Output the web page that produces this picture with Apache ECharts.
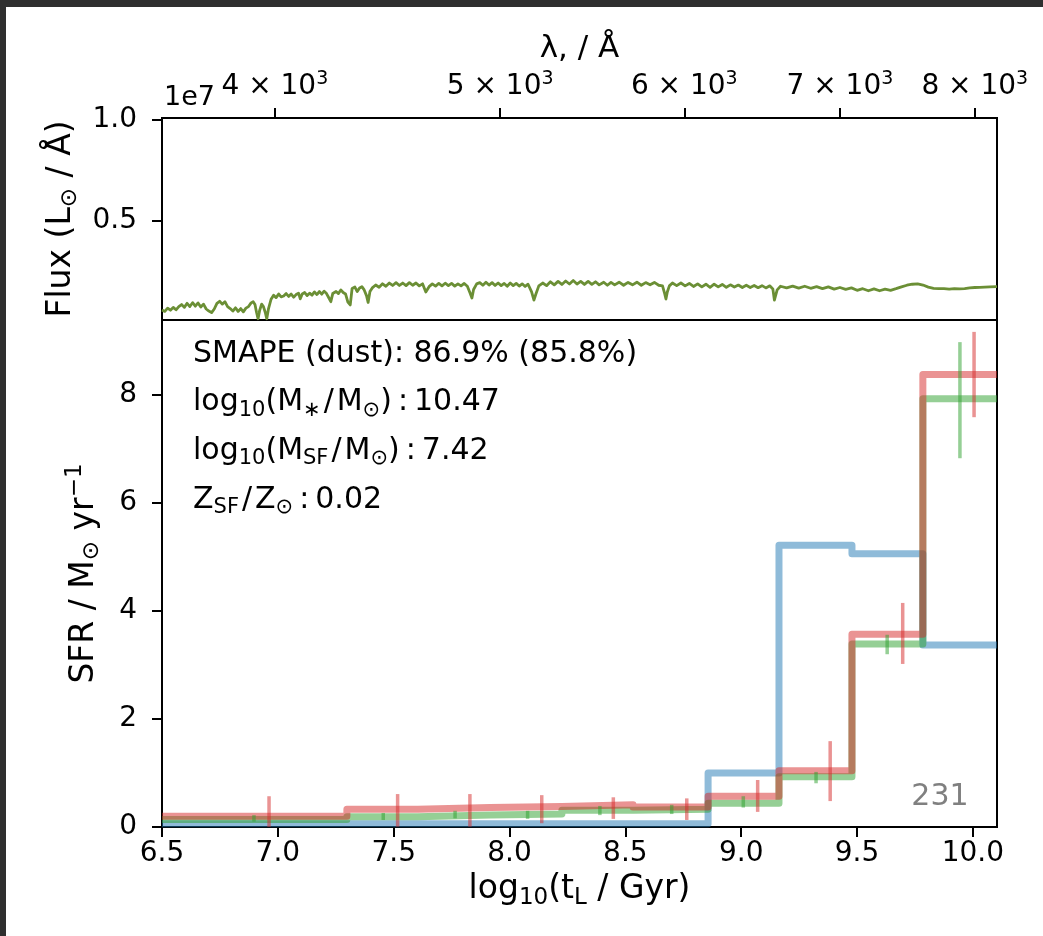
<!DOCTYPE html>
<html>
<head>
<meta charset="utf-8">
<script src="https://cdn.jsdelivr.net/npm/echarts@6/dist/echarts.min.js"></script>
<style>
html,body{margin:0;padding:0;background:#ffffff;}
#c{width:1043px;height:936px;}
</style>
</head>
<body>
<div id="c"></div>
<script>
// ---------------- DATA ----------------
// Spectrum (top panel): wavelength in Angstrom, flux in units of 1e7 L_sun/A
const specWave = [3577,3587,3597,3607,3617,3627,3637,3647,3657,3667,3677,3687,3697,3707,3717,3727,3737,3747,3757,3767,3777,3787,3797,3807,3817,3827,3837,3847,3857,3867,3877,3887,3897,3907,3915,3922,3928,3934,3940,3948,3955,3962,3968,3975,3985,3995,
4005,4015,4025,4035,4045,4055,4065,4075,4085,4095,4102,4110,4120,4130,4140,4150,4160,4170,4180,4190,4200,4210,4220,4228,4236,4250,4260,4270,4280,4290,4300,4310,4318,4330,4340,4350,4360,4370,4380,4387,4395,4405,
4420,4435,4450,4465,4480,4495,4510,4525,4540,4555,4570,4585,4600,4615,4630,4645,4660,4675,4690,4705,4720,4735,4750,4765,4780,4795,4810,4825,4840,4853,4862,4870,4885,4900,4915,4930,4945,4960,4975,4990,
5005,5020,5035,5050,5065,5080,5095,5110,5125,5140,5158,5170,5180,5195,5215,5235,5255,5275,5295,5315,5335,5355,5375,5395,5415,5435,5455,5475,5495,5515,5540,5560,5580,5600,5625,5650,5675,5700,5725,5750,5775,5800,5825,5850,5872,5885,5892,5900,5912,5930,5955,5980,
6005,6030,6055,6080,6105,6130,6155,6180,6205,6230,6255,6280,6305,6330,6355,6380,6405,6430,6455,6480,6505,6530,6550,6560,6568,6578,6600,6640,6680,6720,6760,6800,6840,6880,6920,6960,
7000,7040,7080,7120,7160,7200,7240,7280,7320,7360,7400,7440,7480,7520,7560,7600,7640,7680,7720,7760,7800,7840,7880,7920,7960,8000,8040,8080,8120,8178];
const specFlux = [0.061,0.054,0.070,0.060,0.074,0.062,0.078,0.088,0.074,0.094,0.078,0.097,0.080,0.096,0.076,0.090,0.066,0.056,0.048,0.066,0.094,0.104,0.090,0.102,0.078,0.068,0.056,0.072,0.054,0.068,0.052,0.070,0.078,0.096,0.102,0.088,0.050,0.018,0.058,0.090,0.078,0.050,0.018,0.068,0.114,0.134,
0.122,0.140,0.126,0.130,0.142,0.128,0.140,0.124,0.137,0.144,0.116,0.140,0.147,0.132,0.144,0.134,0.150,0.137,0.152,0.139,0.154,0.142,0.120,0.102,0.142,0.152,0.142,0.160,0.147,0.140,0.100,0.086,0.167,0.174,0.152,0.170,0.176,0.160,0.132,0.098,0.152,0.170,
0.184,0.173,0.190,0.178,0.194,0.182,0.196,0.182,0.194,0.181,0.196,0.183,0.194,0.180,0.190,0.150,0.176,0.190,0.179,0.192,0.180,0.193,0.181,0.192,0.179,0.190,0.180,0.192,0.178,0.145,0.120,0.162,0.190,0.196,0.183,0.198,0.184,0.196,0.182,0.194,
0.181,0.192,0.178,0.194,0.181,0.192,0.179,0.190,0.177,0.188,0.150,0.110,0.140,0.180,0.194,0.181,0.200,0.185,0.202,0.187,0.204,0.189,0.206,0.189,0.202,0.187,0.202,0.187,0.200,0.185,0.198,0.183,0.197,0.185,0.198,0.183,0.197,0.185,0.198,0.183,0.196,0.185,0.197,0.183,0.180,0.140,0.115,0.150,0.180,0.194,0.181,0.194,
0.180,0.192,0.177,0.190,0.175,0.188,0.173,0.188,0.175,0.187,0.173,0.185,0.174,0.184,0.172,0.183,0.172,0.182,0.171,0.181,0.170,0.180,0.165,0.110,0.105,0.160,0.178,0.170,0.179,0.169,0.178,0.168,0.176,0.166,0.175,0.164,
0.172,0.163,0.170,0.158,0.166,0.156,0.165,0.156,0.164,0.158,0.166,0.175,0.183,0.188,0.190,0.184,0.174,0.168,0.166,0.166,0.164,0.166,0.165,0.166,0.170,0.172,0.173,0.174,0.175,0.176];

const waveRange = [3577, 8178];
const waveTicks = [4000, 5000, 6000, 7000, 8000];
const fluxRange = [0.0118, 1.0069];
const fluxTicks = [0.5, 1.0];

// SFH (bottom panel): log10 lookback-time bin left edges and SFR per bin
const ageRange = [6.5, 10.104];
const ageTicks = [6.5, 7.0, 7.5, 8.0, 8.5, 9.0, 9.5, 10.0];
const sfrRange = [0, 9.39];
const sfrTicks = [0, 2, 4, 6, 8];
const binLeft = [6.5, 7.298, 7.605, 7.916, 8.226, 8.533, 8.857, 9.163, 9.478, 9.784];
const sfrBlue  = [0.06, 0.06, 0.06, 0.06, 0.06, 0.06, 1.00, 5.22, 5.06, 3.37];
const sfrGreen = [0.14, 0.19, 0.22, 0.24, 0.31, 0.33, 0.44, 0.93, 3.39, 7.93];
const sfrRed   = [0.20, 0.33, 0.36, 0.38, 0.41, 0.37, 0.57, 1.04, 3.57, 8.38];

// error bars: x position, low, high
const greenErrX  = [6.897, 7.455, 7.765, 8.078, 8.390, 8.700, 9.009, 9.323, 9.630, 9.944];
const greenErrLo = [0.10, 0.13, 0.16, 0.15, 0.22, 0.24, 0.36, 0.81, 3.20, 6.83];
const greenErrHi = [0.22, 0.26, 0.30, 0.30, 0.39, 0.41, 0.57, 1.02, 3.56, 8.98];
const redErrX  = [6.962, 7.517, 7.829, 8.139, 8.448, 8.765, 9.071, 9.384, 9.697, 10.005];
const redErrLo = [-0.17, 0.005, 0.005, 0.07, 0.15, 0.13, 0.28, 0.48, 3.02, 7.59];
const redErrHi = [0.57, 0.61, 0.61, 0.59, 0.55, 0.53, 0.87, 1.59, 4.15, 9.17];

const annotLines = [
  'SMAPE (dust): 86.9% (85.8%)',
  '{a|log}{s|10}{a|(M}{s|∗}{a|\u200A/\u200AM}{s|⊙}{a|)\u2009:\u200910.47}',
  '{a|log}{s|10}{a|(M}{s|SF}{a|\u200A/\u200AM}{s|⊙}{a|)\u2009:\u20097.42}',
  '{a|Z}{s|SF}{a|\u200A/\u200AZ}{s|⊙}{a|\u2009:\u20090.02}'
];
const galaxyId = '231';

// ---------------- STYLE ----------------
const FONT = 'DejaVu Sans';
const TICK_FS = 28;
const NAME_FS = 33;
const ANN_FS = 30;
const C_BLUE = 'rgba(31,119,180,0.5)';
const C_GREEN = 'rgba(44,160,44,0.5)';
const C_RED = 'rgba(214,39,40,0.5)';

function stepData(vals) {
  const d = binLeft.map((x, i) => [x, vals[i]]);
  d.push([ageRange[1], vals[vals.length - 1]]);
  return d;
}
function errData(xs, lo, hi) {
  return xs.map((x, i) => [x, lo[i], hi[i]]);
}
function errSeries(name, xs, lo, hi, color) {
  return {
    name: name, type: 'custom', xAxisIndex: 1, yAxisIndex: 1, clip: true, z: 4,
    data: errData(xs, lo, hi),
    encode: {x: 0, y: [1, 2]},
    renderItem: function (params, api) {
      const p1 = api.coord([api.value(0), api.value(1)]);
      const p2 = api.coord([api.value(0), api.value(2)]);
      return {type: 'line', shape: {x1: p1[0], y1: p1[1], x2: p2[0], y2: p2[1]},
              style: {stroke: color, lineWidth: 3.5, fill: null}};
    }
  };
}
const axisLineStyle = {show: true, lineStyle: {color: '#000', width: 2}};
const tickStyle = {show: true, length: 10, inside: false, lineStyle: {color: '#000', width: 2}};
const richMain = {
  a: {fontFamily: FONT, fontSize: NAME_FS, lineHeight: 40, color: '#000'},
  s: {fontFamily: FONT, fontSize: 23, lineHeight: 23, verticalAlign: 'bottom', color: '#000'},
  p: {fontFamily: FONT, fontSize: 23, lineHeight: 23, verticalAlign: 'top', color: '#000'}
};

const chart = echarts.init(document.getElementById('c'), null, {renderer: 'canvas'});
const option = {
  animation: false,
  backgroundColor: '#ffffff',
  grid: [
    {left: 162, right: 46, top: 118, height: 202, show: true, borderColor: '#000', borderWidth: 2, backgroundColor: 'rgba(0,0,0,0)'},
    {left: 162, right: 46, top: 320, height: 507, show: true, borderColor: '#000', borderWidth: 2, backgroundColor: 'rgba(0,0,0,0)'}
  ],
  xAxis: [
    {
      gridIndex: 0, type: 'value', position: 'top',
      min: Math.log10(waveRange[0]), max: Math.log10(waveRange[1]),
      axisLine: axisLineStyle,
      axisTick: Object.assign({}, tickStyle, {customValues: waveTicks.map(Math.log10)}),
      axisLabel: {
        customValues: waveTicks.map(Math.log10), margin: 14, color: '#000',
        formatter: function (v) {
          const w = Math.round(Math.pow(10, v));
          return '{m|' + (w / 1000) + ' × 10}{p|3}';
        },
        rich: {
          m: {fontFamily: FONT, fontSize: TICK_FS, lineHeight: 34, color: '#000'},
          p: {fontFamily: FONT, fontSize: 19, lineHeight: 19, verticalAlign: 'top', color: '#000'}
        }
      },
      splitLine: {show: false},
      name: 'λ, / Å', nameLocation: 'middle', nameGap: 54,
      nameTextStyle: {fontFamily: FONT, fontSize: 31, color: '#000'}
    },
    {
      gridIndex: 1, type: 'value', position: 'bottom',
      min: ageRange[0], max: ageRange[1],
      axisLine: axisLineStyle,
      axisTick: Object.assign({}, tickStyle, {customValues: ageTicks}),
      axisLabel: {customValues: ageTicks, margin: 13, color: '#000', fontFamily: FONT, fontSize: TICK_FS,
                  formatter: v => v.toFixed(1)},
      splitLine: {show: false},
      name: '{a|log}{s|10}{a|(t}{s|L}{a| / Gyr)}', nameLocation: 'middle', nameGap: 42,
      nameTextStyle: {fontFamily: FONT, fontSize: NAME_FS, color: '#000', rich: richMain}
    }
  ],
  yAxis: [
    {
      gridIndex: 0, type: 'value', min: fluxRange[0], max: fluxRange[1],
      axisLine: axisLineStyle,
      axisTick: Object.assign({}, tickStyle, {customValues: fluxTicks}),
      axisLabel: {customValues: fluxTicks, margin: 25, color: '#000', fontFamily: FONT, fontSize: TICK_FS,
                  formatter: v => v.toFixed(1)},
      splitLine: {show: false},
      name: '{a|Flux (L}{s|⊙}{a| / Å)}', nameLocation: 'middle', nameGap: 78, nameRotate: 90,
      nameTextStyle: {fontFamily: FONT, fontSize: NAME_FS, color: '#000', rich: richMain}
    },
    {
      gridIndex: 1, type: 'value', min: sfrRange[0], max: sfrRange[1],
      axisLine: axisLineStyle,
      axisTick: Object.assign({}, tickStyle, {customValues: sfrTicks}),
      axisLabel: {customValues: sfrTicks, margin: 25, color: '#000', fontFamily: FONT, fontSize: TICK_FS,
                  formatter: v => String(v)},
      splitLine: {show: false},
      name: '{a|SFR / M}{s|⊙}{a| yr}{p|−1}', nameLocation: 'middle', nameGap: 58, nameRotate: 90,
      nameTextStyle: {fontFamily: FONT, fontSize: NAME_FS, color: '#000', rich: richMain}
    }
  ],
  series: [
    {
      name: 'spectrum', type: 'line', xAxisIndex: 0, yAxisIndex: 0,
      data: specWave.map((w, i) => [Math.log10(w), specFlux[i]]),
      symbol: 'none', lineStyle: {color: '#6b8f35', width: 2.8, join: 'round'}, z: 3
    },
    {
      name: 'blue', type: 'line', xAxisIndex: 1, yAxisIndex: 1, step: 'end',
      data: stepData(sfrBlue), symbol: 'none',
      lineStyle: {color: C_BLUE, width: 7, join: 'round', cap: 'butt'}, z: 2
    },
    {
      name: 'green', type: 'line', xAxisIndex: 1, yAxisIndex: 1, step: 'end',
      data: stepData(sfrGreen), symbol: 'none',
      lineStyle: {color: C_GREEN, width: 7, join: 'round', cap: 'butt'}, z: 2
    },
    {
      name: 'red', type: 'line', xAxisIndex: 1, yAxisIndex: 1, step: 'end',
      data: stepData(sfrRed), symbol: 'none',
      lineStyle: {color: C_RED, width: 7, join: 'round', cap: 'butt'}, z: 2
    },
    errSeries('green err', greenErrX, greenErrLo, greenErrHi, C_GREEN),
    errSeries('red err', redErrX, redErrLo, redErrHi, C_RED)
  ],
  graphic: [
    {type: 'rect', shape: {x: 0, y: 0, width: 1043, height: 7}, style: {fill: '#2f2f2f'}, z: 100},
    {type: 'rect', shape: {x: 0, y: 0, width: 6, height: 936}, style: {fill: '#2f2f2f'}, z: 100},
    {type: 'text', x: 164, y: 98, z: 50,
     style: {text: '1e7', fontFamily: FONT, fontSize: 27, fill: '#000', align: 'left', verticalAlign: 'middle', textAlign: 'left', textVerticalAlign: 'middle'}},
    {type: 'text', x: 940, y: 797, z: 50,
     style: {text: galaxyId, fontFamily: FONT, fontSize: ANN_FS, fill: '#808080', align: 'center', verticalAlign: 'middle', textAlign: 'center', textVerticalAlign: 'middle'}}
  ].concat(annotLines.map((t, i) => ({
    type: 'text', x: 193, y: 354 + i * 48.7, z: 50,
    style: {
      text: i === 0 ? '{a|' + t + '}' : t,
      fontFamily: FONT, fontSize: ANN_FS, fill: '#000',
      align: 'left', verticalAlign: 'middle', textAlign: 'left', textVerticalAlign: 'middle',
      rich: {
        a: {fontFamily: FONT, fontSize: ANN_FS, lineHeight: 36, fill: '#000'},
        s: {fontFamily: FONT, fontSize: 21, lineHeight: 21, verticalAlign: 'bottom', fill: '#000'}
      }
    }
  })))
};
chart.setOption(option);
</script>
</body>
</html>
